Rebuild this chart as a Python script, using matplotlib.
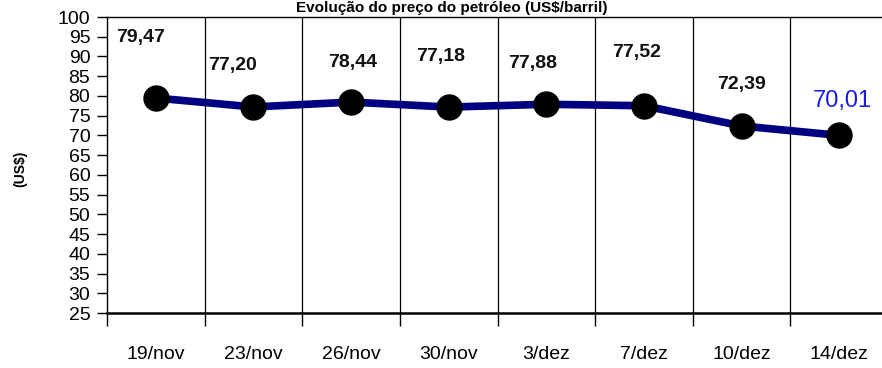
"""Weekly oil price chart (US$)."""

from matplotlib import pyplot as plt
import numpy as np

plt.rcParams['font.family'] = ['Liberation Sans', 'DejaVu Sans']

# data
dates = ['19/nov', '23/nov', '26/nov', '30/nov', '3/dez', '7/dez', '10/dez', '14/dez']
prices = [79.47, 77.20, 78.44, 77.18, 77.88, 77.52, 72.39, 70.01]
price_labels = ['79,47', '77,20', '78,44', '77,18', '77,88', '77,52', '72,39', '70,01']

# where each value label sits (as in the original chart)
label_dx = [-0.16, -0.21, 0.02, -0.08, -0.14, -0.08, 0.0, 0.03]
label_y = [94.8, 87.6, 88.5, 90.1, 88.1, 90.9, 82.9, 78.7]

fig = plt.figure(figsize=(8.82, 3.68), dpi=100)
ax = fig.add_axes([107 / 882, 55 / 368, 781 / 882, 296 / 368])

x = np.arange(len(dates)) + 0.5
ax.plot(x, prices, color='#000080', linewidth=5.5, solid_capstyle='round',
        marker='o', markersize=18, markerfacecolor='black',
        markeredgecolor='black', zorder=3)

for i, lab in enumerate(price_labels):
    last = i == len(price_labels) - 1
    ax.text(x[i] + label_dx[i], label_y[i], lab, ha='center', va='center',
            fontsize=17 if last else 14,
            fontweight='normal' if last else 'bold',
            color='#1a1ae6' if last else '#111111')

# vertical separators between dates
for xv in range(1, len(dates)):
    ax.axvline(xv, color='black', linewidth=0.9, zorder=1)

ax.set_xlim(0, len(dates))
ax.set_ylim(25, 100)
ax.set_yticks(np.arange(25, 101, 5))
ax.tick_params(axis='y', labelsize=14, length=7, width=1, pad=5)

ax.set_xticks(np.arange(0, len(dates) + 1))
ax.set_xticklabels([])
ax.set_xticks(x, minor=True)
ax.set_xticklabels(dates, minor=True)
ax.tick_params(axis='x', which='major', length=9, width=1, direction='out')
ax.tick_params(axis='x', which='minor', length=0, labelsize=14, pad=24)

for side in ['left', 'top', 'right']:
    ax.spines[side].set_linewidth(1.0)
ax.spines['bottom'].set_linewidth(1.8)

fig.text(20 / 882, 0.54, '(US$)', rotation=90, ha='center', va='center',
         fontsize=10, fontweight='bold')
fig.text(0.512, 1 - 12 / 368, 'Evolução do preço do petróleo (US$/barril)',
         ha='center', va='baseline', fontsize=11, fontweight='bold')

fig.savefig('out.png', dpi=100)
